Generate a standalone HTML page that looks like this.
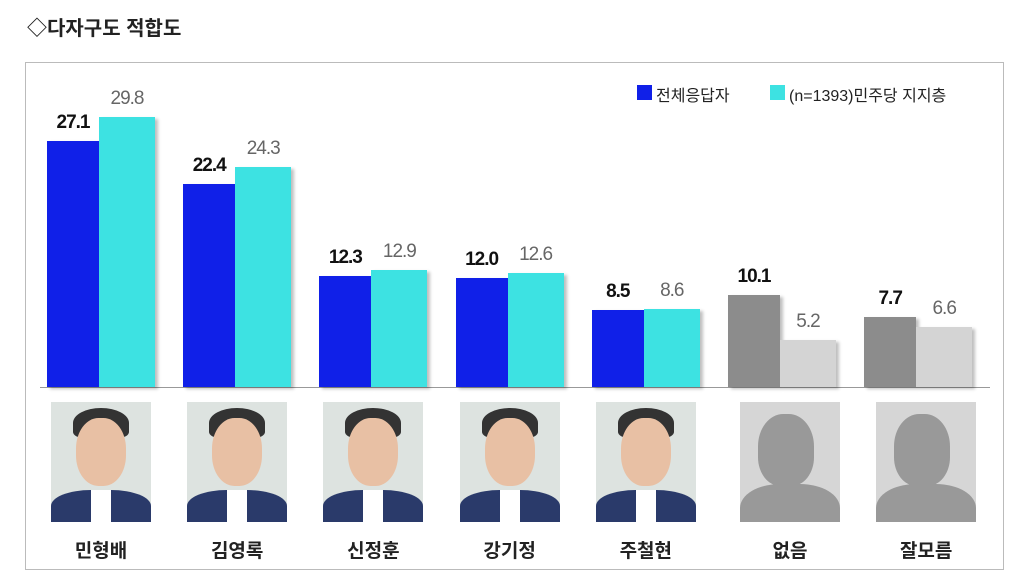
<!DOCTYPE html>
<html><head><meta charset="utf-8"><style>
body{margin:0;width:1027px;height:582px;background:#fff;position:relative;overflow:hidden;font-family:"Liberation Sans","Noto Sans CJK KR",sans-serif}
.a{position:absolute}
.box{left:25px;top:62px;width:977px;height:506px;border:1px solid #bbb}
.bar{position:absolute;box-shadow:3px 2px 3px rgba(0,0,0,.25)}
.v{position:absolute;font-size:19px;text-align:center;width:70px;letter-spacing:-1px}
.b{font-weight:bold;color:#111}.g{color:#666}
.ph{position:absolute;top:402px;width:100px;height:120px;overflow:hidden}
.nm{position:absolute;top:536px;width:110px;text-align:center;font-size:19px;font-weight:bold;color:#222}
</style></head><body>
<div class="a" style="left:27px;top:12px;font-size:20px;font-weight:bold;color:#222">◇다자구도 적합도</div>
<div class="a box"></div>
<div class="a" style="left:637px;top:85px;width:15px;height:15px;background:#1020e8"></div>
<div class="a" style="left:656px;top:82px;font-size:16px;color:#222">전체응답자</div>
<div class="a" style="left:770px;top:85px;width:15px;height:15px;background:#3de2e2"></div>
<div class="a" style="left:789px;top:82px;font-size:16px;color:#222">(n=1393)민주당 지지층</div>
<div class="a" style="left:40px;top:387px;width:950px;height:1px;background:#999"></div>
<div id="c"></div>
<script>
var d=[[27.1,29.8,"민형배"],[22.4,24.3,"김영록"],[12.3,12.9,"신정훈"],[12.0,12.6,"강기정"],[8.5,8.6,"주철현"],[10.1,5.2,"없음"],[7.7,6.6,"잘모름"]];
var h="";
d.forEach(function(r,i){
 var x=47+i*136.2,s=9.06,gr=i>=5;
 var c1=gr?"#8c8c8c":"#1020e8",c2=gr?"#d4d4d4":"#3de2e2";
 var h1=r[0]*s,h2=r[1]*s;
 h+='<div class="bar" style="left:'+x+'px;top:'+(387-h1)+'px;width:52px;height:'+h1+'px;background:'+c1+'"></div>';
 h+='<div class="bar" style="left:'+(x+52)+'px;top:'+(387-h2)+'px;width:56px;height:'+h2+'px;background:'+c2+'"></div>';
 h+='<div class="v b" style="left:'+(x-9)+'px;top:'+(387-h1-29)+'px">'+r[0].toFixed(1)+'</div>';
 h+='<div class="v g" style="left:'+(x+45)+'px;top:'+(387-h2-29)+'px">'+r[1].toFixed(1)+'</div>';
 var px=x+(gr?12:4);
 if(gr){
  h+='<div class="ph" style="left:'+px+'px;background:#d6d6d6"><div class="a" style="left:18px;top:12px;width:56px;height:72px;border-radius:45% 45% 40% 40%;background:#999"></div><div class="a" style="left:0;top:82px;width:100px;height:60px;border-radius:40% 40% 0 0;background:#999"></div></div>';
 }else{
  h+='<div class="ph" style="left:'+px+'px;background:#dde3e0"><div class="a" style="left:22px;top:6px;width:56px;height:30px;border-radius:50% 50% 20% 20%;background:#333"></div><div class="a" style="left:25px;top:16px;width:50px;height:68px;border-radius:45%;background:#e8c0a4"></div><div class="a" style="left:0;top:88px;width:100px;height:40px;border-radius:40% 40% 0 0;background:#2a3a6a"></div><div class="a" style="left:40px;top:88px;width:20px;height:32px;background:#fff"></div></div>';
 }
 h+='<div class="nm" style="left:'+(px-5)+'px">'+r[2]+'</div>';
});
document.getElementById("c").innerHTML=h;
</script>
</body></html>
